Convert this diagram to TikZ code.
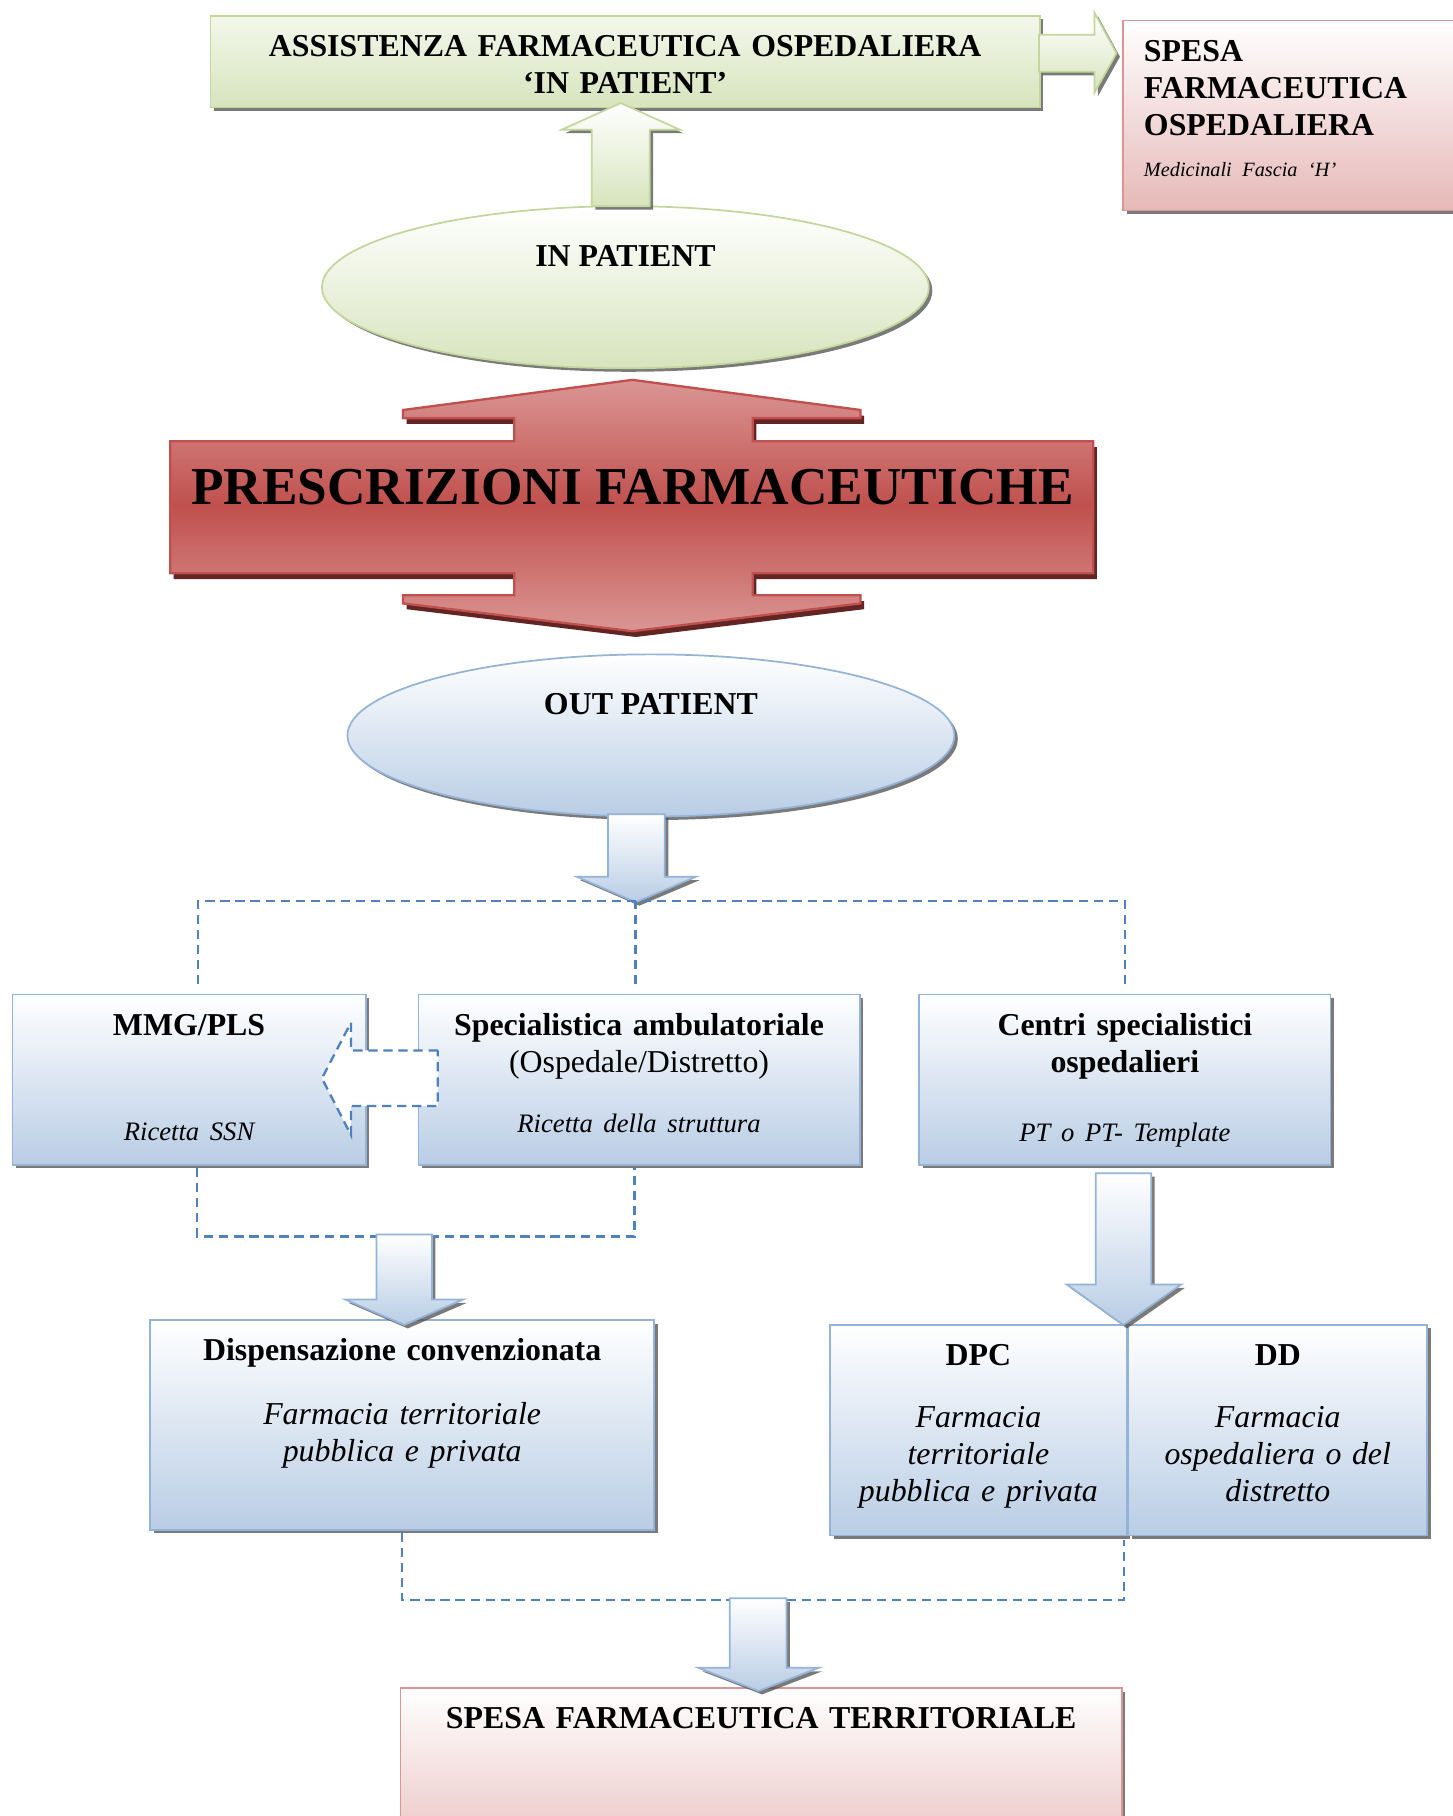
\documentclass[tikz,border=0pt]{standalone}
\usepackage{fontspec}
\setmainfont{Liberation Serif}
\usepackage{tikz}
\usetikzlibrary{positioning, shapes.geometric, shadows, calc}

\definecolor{grline}{HTML}{C3D69B}
\definecolor{grfill}{HTML}{D7E4BD}
\definecolor{pkline}{HTML}{D99694}
\definecolor{pkfill}{HTML}{E6B9B8}
\definecolor{blline}{HTML}{95B3D7}
\definecolor{blfill}{HTML}{B9CDE5}
\definecolor{dashblue}{HTML}{4F81BD}
\definecolor{redmain}{HTML}{C0504D}
\definecolor{redlight}{HTML}{DA9694}
\definecolor{reddark}{HTML}{632523}
\definecolor{shadowgray}{HTML}{4D4D4D}

\begin{document}
\begin{tikzpicture}[x=1pt, y=1pt, font=\fontsize{27.5}{32}\selectfont,
		sh/.style={drop shadow={shadow xshift=3pt, shadow yshift=-3pt, fill=shadowgray, opacity=.75}},
		box/.style={line width=1.5pt, sh, align=center, inner xsep=0pt, inner ysep=0pt, text height=35pt, anchor=north west},
		bluebox/.style={box, draw=blline, top color=white, bottom color=blfill},
		greenbox/.style={box, draw=grline, top color=grfill!30!white, bottom color=grfill},
		pinkbox/.style={box, draw=pkline, top color=white, bottom color=pkfill},
		oval/.style={ellipse, line width=1.5pt, sh, minimum width=524pt, minimum height=140pt, text height=20pt, text depth=56pt, font=\fontsize{27.5}{32}\selectfont\bfseries},
		garrow/.style={draw=grline, line width=1.5pt, top color=white, bottom color=grfill, sh},
		barrow/.style={draw=blline, line width=1.5pt, top color=white, bottom color=blfill, sh},
		dashline/.style={draw=dashblue, line width=2pt, dash pattern=on 8pt off 5pt}]

		\useasboundingbox (0,0) rectangle (1254,-1568);

		% in patient side
		\node[greenbox, text width=716pt, text depth=44pt, font=\fontsize{27.5}{32}\selectfont\bfseries] (assist) at (181,-13) {ASSISTENZA FARMACEUTICA OSPEDALIERA\\‘IN PATIENT’};
		\node[pinkbox, align=left, text width=272pt, inner xsep=18pt, text depth=129pt, font=\fontsize{27.5}{32}\selectfont\bfseries] (spesao) at (969,-17) {SPESA\\FARMACEUTICA\\OSPEDALIERA\\[4pt]{\fontsize{17.5}{32}\selectfont\mdseries\itshape Medicinali Fascia ‘H’}};
		\path[garrow] (897,-30) -- (945,-30) -- (945,-11) -- (964,-46) -- (945,-80) -- (945,-62) -- (897,-62) -- cycle;

		\node[oval, draw=grline, top color=white, bottom color=grfill] (inpat) at (540,-248) {IN PATIENT};
		\path[garrow] (511,-178) -- (511,-112) -- (485,-112) -- (536,-89) -- (587,-112) -- (561,-112) -- (561,-178) -- cycle;

		% double arrow
		\path[draw=redmain, line width=2pt, top color=redlight, bottom color=redlight, middle color=redmain,
			drop shadow={shadow xshift=3pt, shadow yshift=-5pt, fill=reddark, opacity=1}]
			(546,-328) -- (743,-354) -- (743,-361) -- (650,-361) -- (650,-381) -- (944,-381) -- (944,-495)
			-- (650,-495) -- (650,-514) -- (743,-514) -- (743,-521) -- (546,-545) -- (348,-521) -- (348,-514)
			-- (444,-514) -- (444,-495) -- (147,-495) -- (147,-381) -- (444,-381) -- (444,-361) -- (348,-361)
			-- (348,-354) -- cycle;
		\node[font=\fontsize{46}{50}\selectfont\bfseries] (presc) at (546,-421) {PRESCRIZIONI FARMACEUTICHE};

		% out patient side
		\node[oval, draw=blline, top color=white, bottom color=blfill] (outpat) at (562,-635) {OUT PATIENT};
		\path[barrow] (525,-703) -- (525,-757) -- (498,-757) -- (549,-779) -- (601,-757) -- (574,-757) -- (574,-703) -- cycle;

		\node[bluebox, text width=305pt, text depth=112pt] (mmg) at (10,-858) {\textbf{MMG/PLS}\\[59pt]{\fontsize{23}{32}\selectfont\itshape Ricetta SSN}};
		\node[bluebox, text width=381pt, text depth=112pt, right=44pt of mmg] (spec) {\textbf{Specialistica ambulatoriale}\\(Ospedale/Distretto)\\[20pt]{\fontsize{23}{32}\selectfont\itshape Ricetta della struttura}};
		\node[bluebox, text width=355pt, text depth=112pt, right=50pt of spec] (centri) {\textbf{Centri specialistici}\\\textbf{ospedalieri}\\[28pt]{\fontsize{23}{32}\selectfont\itshape PT o PT- Template}};

		\draw[dashline] ([xshift=8pt, yshift=8pt]mmg.north) |- ([yshift=80pt]centri.north) -- ([yshift=8pt]centri.north);
		\draw[dashline] ([xshift=-3pt, yshift=8pt]spec.north) -- ++(0,72);
		\path[dashline, fill=white] (378,-907) -- (303,-907) -- (303,-883) -- (278,-931) -- (303,-980) -- (303,-955) -- (378,-955) -- cycle;

		\draw[dashline] ([xshift=7pt, yshift=-2pt]mmg.south) -- ++(0,-59) -| ([xshift=-4pt, yshift=-2pt]spec.south);

		\node[bluebox, text width=435pt, text depth=146pt] (disp) at (129,-1139) {\textbf{Dispensazione convenzionata}\\[23pt]\textit{Farmacia territoriale}\\\textit{pubblica e privata}};
		\path[barrow] (325,-1066) -- (325,-1122) -- (298,-1122) -- (349,-1144) -- (400,-1122) -- (373,-1122) -- (373,-1066) -- cycle;

		\node[bluebox, text width=256pt, text depth=147pt] (dpc) at (716,-1143) {\textbf{DPC}\\[22pt]\textit{Farmacia}\\\textit{territoriale}\\\textit{pubblica e privata}};
		\node[bluebox, text width=258pt, text depth=147pt, right=0pt of dpc] (dd) {\textbf{DD}\\[22pt]\textit{Farmacia}\\\textit{ospedaliera o del}\\\textit{distretto}};
		\path[barrow] (946,-1013) -- (946,-1109) -- (921,-1109) -- (970,-1144) -- (1020,-1109) -- (994,-1109) -- (994,-1013) -- cycle;

		\draw[dashline] ([yshift=-2pt]disp.south) -- ++(0,-58) -| ([xshift=-3pt, yshift=-3pt]dpc.south east);

		\node[pinkbox, text width=623pt, text depth=130pt, font=\fontsize{27.5}{32}\selectfont\bfseries] (spesat) at (345,-1457) {SPESA FARMACEUTICA TERRITORIALE};
		\path[barrow] (630,-1380) -- (630,-1440) -- (603,-1440) -- (655,-1460) -- (707,-1440) -- (679,-1440) -- (679,-1380) -- cycle;
\end{tikzpicture}
\end{document}
